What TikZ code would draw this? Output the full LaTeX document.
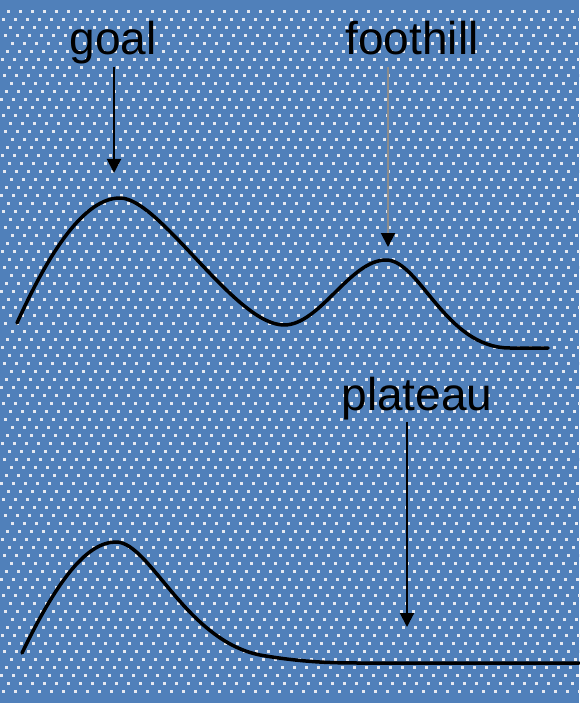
\documentclass[tikz,border=0pt]{standalone}
\usepackage{fontspec}
\setmainfont{Liberation Sans}
\usetikzlibrary{arrows.meta}
\definecolor{skyblue}{HTML}{5080BA}
\definecolor{speck}{HTML}{E4E8F0}
\definecolor{shaftgray}{HTML}{8C8C8C}

\begin{document}
\begin{tikzpicture}[x=1pt,y=-1pt,>={Triangle[width=14pt,length=14pt]},
  lbl/.style={font=\fontsize{46}{50}\selectfont,inner sep=0pt,anchor=base,text depth=.25em},
  hill/.style={line width=3.5pt,line cap=round,line join=round},
  pointer/.style={->,line width=2pt,shorten <=9pt}]
 \useasboundingbox (0,0) rectangle (579,703);
 \fill[skyblue] (0,0) rectangle (579,703);
 % dithered specks
 \foreach \r in {1,...,86}
  \foreach \c in {0,...,48}
   \fill[speck] ({\c*12+mod(\r*7,12)},{\r*8+2}) rectangle +(2.6,2.6);
 % upper landscape
 \draw[hill] (17,323) .. controls (50,250) and (85,198) .. (120,198)
   .. controls (160,198) and (235,325) .. (284,325)
   .. controls (320,325) and (350,260) .. (386,260)
   .. controls (420,260) and (445,348) .. (510,348) -- (548,348);
 \node[lbl] (goal) at (113,55) {goal};
 \node[lbl] (foothill) at (412,55) {foothill};
 \coordinate (goaltip) at (114,173);
 \coordinate (foottip) at (388,247);
 \draw[pointer] (goal.south -| goaltip) -- (goaltip);
 \draw[pointer,shaftgray,-{Triangle[width=14pt,length=14pt,black]}] (foothill.south -| foottip) -- (foottip);
 % lower landscape
 \draw[hill] (22,653) .. controls (55,585) and (85,542) .. (116,542)
   .. controls (150,542) and (185,640) .. (260,655)
   .. controls (300,662) and (330,663) .. (360,663) -- (579,663);
 \node[lbl] (plateau) at (417,410) {plateau};
 \coordinate (platip) at (407,627);
 \draw[pointer] (plateau.south -| platip) -- (platip);
\end{tikzpicture}
\end{document}
